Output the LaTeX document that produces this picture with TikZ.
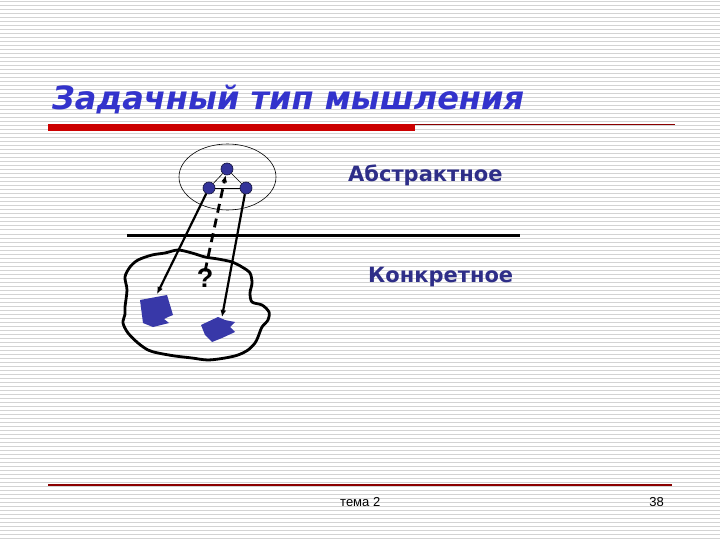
\documentclass[tikz,border=0pt]{standalone}
\usepackage{fontspec}
\setmainfont{DejaVu Sans}
\newfontfamily\arialf{Liberation Sans}
\usetikzlibrary{arrows.meta}
\definecolor{titleblue}{HTML}{3333CC}
\definecolor{navy}{HTML}{2E2E88}
\definecolor{dotblue}{HTML}{333399}
\definecolor{shapeblue}{HTML}{3838A8}
\definecolor{barred}{HTML}{CC0000}
\definecolor{linered}{HTML}{8B0000}
\definecolor{stripe}{HTML}{D3D3D3}
\begin{document}
\begin{tikzpicture}[x=1pt,y=-1pt,
  dot/.style={circle,fill=dotblue,draw=black!60!dotblue,line width=0.6pt,inner sep=0pt,minimum size=12pt},
  arr/.style={line width=2.2pt,-{Latex[length=7pt,width=6pt]}},
  dasharr/.style={line width=2.8pt,dash pattern=on 9pt off 6pt,-{Latex[length=7pt,width=6pt]}},
  thinline/.style={line width=0.6pt},
  label/.style={anchor=base west,text=navy,inner sep=0pt,font=\fontsize{21}{21}\selectfont\bfseries},
  foot/.style={inner sep=0pt,font=\arialf\fontsize{13}{13}\selectfont}]
\useasboundingbox (0,0) rectangle (720,540);
\fill[white] (0,0) rectangle (720,540);
\foreach \y in {2,6,...,538} \draw[stripe,line width=1pt] (0,\y) -- (720,\y);

% title
\node[anchor=base west,text=titleblue,inner sep=0pt,font=\fontsize{32}{32}\selectfont\bfseries\itshape] (title) at (52,110) {Задачный тип мышления};
\fill[barred] (48,124) rectangle (415,131);
\draw[linered,line width=1pt] (415,124.5) -- (675,124.5);

% abstract level
\draw[thinline] (227.5,177) ellipse [x radius=48.5pt, y radius=33pt];
\node[dot] (top) at (227,169) {};
\node[dot] (left) at (209,188) {};
\node[dot] (right) at (246,188) {};
\draw[thinline] (top) -- (left);
\draw[thinline] (top) -- (right);
\draw[thinline] (left) -- (right);

% divider
\coordinate (d1) at (127,235);
\coordinate (d2) at (520,235);
\draw[line width=3pt] (d1) -- (d2);

% concrete area
\draw[line width=2.8pt,line join=round] plot[smooth cycle,tension=0.5] coordinates {
 (125,307) (127,290) (125,277) (130,267) (138,260) (152,255) (165,253) (178,250)
 (192,253) (205,257) (218,259) (232,262) (242,267) (250,273) (252,283) (250,293)
 (252,302) (262,305) (269,312) (268,320) (262,327) (258,337) (255,343) (248,350)
 (238,355) (225,358) (208,360) (192,358) (175,356) (158,353) (148,350) (138,343)
 (128,333) (123,323) (125,314)};

\fill[shapeblue] (140,300) -- (167,295) -- (173,315) -- (168,317) -- (164,319) -- (169,323) -- (153,327) -- (143,323) -- cycle;
\fill[shapeblue] (201,325) -- (218,317) -- (225,320) -- (235,322) -- (230,327) -- (235,332) -- (222,338) -- (212,342) -- (205,335) -- cycle;
\coordinate (t1) at (157,294);
\coordinate (t2) at (222,317);

\draw[arr] (left) -- (t1);
\draw[arr] (right) -- (t2);

\node[inner sep=0pt,font=\arialf\fontsize{27}{27}\selectfont\bfseries] (q) at (205,278) {?};
\draw[dasharr] ([yshift=-3pt]q.north) -- (top);

\node[label] (abs) at (348,182) {Абстрактное};
\node[label] (konk) at (368,282) {Конкретное};

% footer
\draw[linered,line width=1.2pt] (48,485) -- (672,485);
\node[foot,anchor=base west] (tema) at (340,506) {тема 2};
\node[foot,anchor=base east] (num) at (664,506) {38};
\end{tikzpicture}
\end{document}
